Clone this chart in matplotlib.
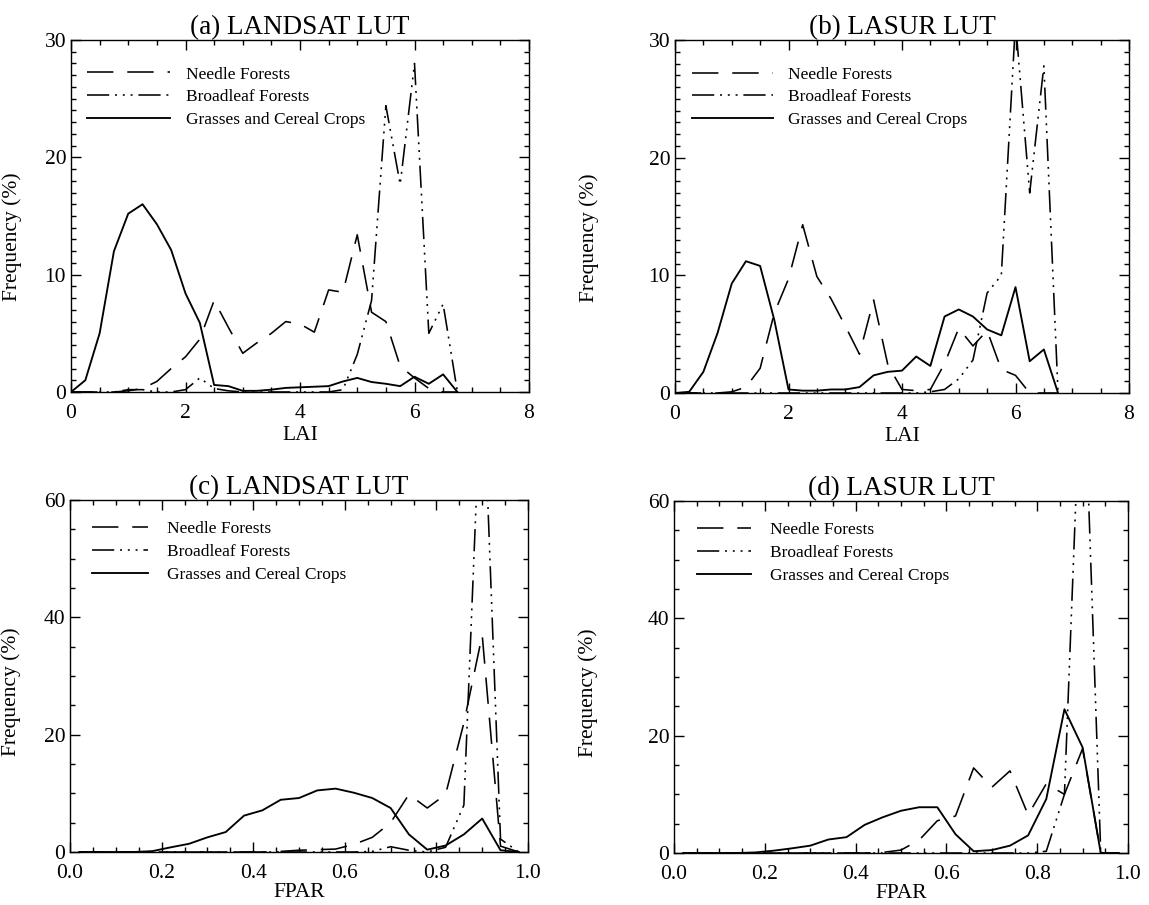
import matplotlib
matplotlib.use("Agg")
import matplotlib.pyplot as plt
from matplotlib.ticker import MultipleLocator

plt.rcParams['font.family'] = ['Liberation Serif', 'DejaVu Serif']
plt.rcParams['lines.scale_dashes'] = False

# ---------------- data ----------------
lai_bins = [0.0, 0.25, 0.5, 0.75, 1.0, 1.25, 1.5, 1.75, 2.0, 2.25, 2.5, 2.75, 3.0, 3.25,
            3.5, 3.75, 4.0, 4.25, 4.5, 4.75, 5.0, 5.25, 5.5, 5.75, 6.0, 6.25, 6.5, 6.75]

fpar_bins = [0.02, 0.06, 0.10, 0.14, 0.18, 0.22, 0.26, 0.30, 0.34, 0.38, 0.42, 0.46, 0.50,
             0.54, 0.58, 0.62, 0.66, 0.70, 0.74, 0.78, 0.82, 0.86, 0.90, 0.94, 0.98]

# (a) LANDSAT LUT, LAI
a_needle = [0, 0, 0, 0, 0.1, 0.3, 0.9, 2.0, 3.0, 4.5, 7.8, 5.5, 3.3, 4.2,
            5.0, 6.0, 5.8, 5.1, 8.7, 8.5, 13.4, 6.8, 6.0, 2.2, 1.2, 0.3, 0, 0]
a_broad = [0, 0, 0, 0, 0.2, 0.2, 0, 0, 0.2, 1.2, 0.3, 0.1, 0, 0,
           0, 0, 0, 0, 0, 0.2, 3.2, 7.8, 24.4, 17.7, 28.0, 5.0, 7.5, 0]
a_grass = [0, 1.0, 5.0, 12.0, 15.2, 16.0, 14.3, 12.1, 8.4, 5.9, 0.6, 0.5, 0.1, 0.1,
           0.2, 0.35, 0.4, 0.45, 0.5, 0.9, 1.2, 0.85, 0.7, 0.5, 1.3, 0.7, 1.5, 0]

# (b) LASUR LUT, LAI
b_needle = [0, 0, 0, 0, 0.1, 0.5, 2.1, 6.8, 9.7, 14.3, 9.9, 8.0, 5.7, 3.3,
            7.9, 2.4, 0.3, 0.2, 0.3, 2.5, 5.5, 4.0, 5.3, 2.0, 1.5, 0, 0, 0]
b_broad = [0, 0, 0, 0, 0, 0, 0, 0, 0, 0, 0, 0, 0, 0,
           0, 0, 0, 0, 0.1, 0.3, 1.2, 2.8, 8.5, 10.0, 31.5, 17.0, 27.8, 0]
b_grass = [0, 0.1, 1.8, 5.1, 9.3, 11.2, 10.8, 6.2, 0.3, 0.2, 0.2, 0.3, 0.3, 0.5,
           1.5, 1.8, 1.9, 3.1, 2.3, 6.5, 7.1, 6.5, 5.4, 4.9, 9.0, 2.7, 3.7, 0]

# (c) LANDSAT LUT, FPAR
c_needle = [0, 0, 0, 0, 0, 0, 0, 0, 0, 0, 0, 0.1, 0.3,
            0.4, 0.5, 1.3, 2.5, 5.0, 9.8, 7.5, 9.8, 22.0, 37.0, 1.0, 0]
c_broad = [0, 0, 0, 0, 0, 0, 0, 0, 0, 0, 0, 0, 0,
           0, 0, 0, 0.1, 0.9, 0.3, 0, 0.8, 8.0, 85.0, 2.2, 0]
c_grass = [0, 0, 0, 0, 0.15, 0.8, 1.4, 2.5, 3.4, 6.2, 7.1, 8.9, 9.2,
           10.5, 10.8, 10.1, 9.2, 7.5, 3.0, 0.4, 1.1, 3.0, 5.7, 0.3, 0]

# (d) LASUR LUT, FPAR
d_needle = [0, 0, 0, 0, 0, 0, 0, 0, 0, 0, 0, 0.1, 0.5,
            2.2, 5.5, 6.3, 14.5, 11.2, 14.0, 6.5, 11.8, 10.0, 17.8, 0, 0]
d_broad = [0, 0, 0, 0, 0, 0, 0, 0, 0, 0, 0, 0, 0,
           0, 0, 0, 0, 0, 0, 0, 0.3, 10.0, 90.0, 0, 0]
d_grass = [0, 0, 0, 0, 0.1, 0.4, 0.8, 1.25, 2.3, 2.7, 4.8, 6.1, 7.2,
           7.8, 7.8, 3.2, 0.3, 0.5, 1.25, 3.0, 9.2, 24.5, 18.0, 0, 0]

labels = ['Needle Forests', 'Broadleaf Forests', 'Grasses and Cereal Crops']
titles = ['(a) LANDSAT LUT', '(b) LASUR LUT', '(c) LANDSAT LUT', '(d) LASUR LUT']
lai_ticks = [0, 2, 4, 6, 8]
lai_ticklabels = ['0', '2', '4', '6', '8']
fpar_ticks = [0.0, 0.2, 0.4, 0.6, 0.8, 1.0]
fpar_ticklabels = ['0.0', '0.2', '0.4', '0.6', '0.8', '1.0']

# ---------------- styles ----------------
needle_dash = (0, (19, 10))
broad_dash = (0, (16, 4.2, 1.4, 4.2, 1.4, 4.2, 1.4, 4.2))
W, H = 1149, 905

fig = plt.figure(figsize=(W / 100, H / 100), dpi=100)

panels = [
    dict(rect=[71, 40, 458, 352], x=lai_bins, series=(a_needle, a_broad, a_grass),
         ylim=30, yt=[0, 10, 20, 30], ymin=1, xt=lai_ticks, xtl=lai_ticklabels, xmin=0.5,
         xlim=8, xlabel='LAI', ylab=(-0.108, 0.44), xlp=2,
         leg=dict(anchor=(0.035, 0.925), hl=4.8, pad=0.9)),
    dict(rect=[675, 40, 454, 353], x=lai_bins, series=(b_needle, b_broad, b_grass),
         ylim=30, yt=[0, 10, 20, 30], ymin=1, xt=lai_ticks, xtl=lai_ticklabels, xmin=0.5,
         xlim=8, xlabel='LAI', ylab=(-0.168, 0.44), xlp=2,
         leg=dict(anchor=(0.037, 0.925), hl=4.7, pad=0.86)),
    dict(rect=[70, 500, 458, 352], x=fpar_bins, series=(c_needle, c_broad, c_grass),
         ylim=60, yt=[0, 20, 40, 60], ymin=5, xt=fpar_ticks, xtl=fpar_ticklabels, xmin=0.05,
         xlim=1, xlabel='FPAR', ylab=(-0.107, 0.455), xlp=0,
         leg=dict(anchor=(0.048, 0.94), hl=3.2, pad=1.1)),
    dict(rect=[674, 501, 454, 352], x=fpar_bins, series=(d_needle, d_broad, d_grass),
         ylim=60, yt=[0, 20, 40, 60], ymin=5, xt=fpar_ticks, xtl=fpar_ticklabels, xmin=0.05,
         xlim=1, xlabel='FPAR', ylab=(-0.167, 0.455), xlp=0,
         leg=dict(anchor=(0.051, 0.94), hl=3.1, pad=1.1)),
]

for p, title in zip(panels, titles):
    l, t, w, h = p['rect']
    ax = fig.add_axes([l / W, 1 - (t + h) / H, w / W, h / H])
    needle, broad, grass = p['series']
    ax.plot(p['x'], needle, color='black', lw=1.15, linestyle=needle_dash, label=labels[0])
    ax.plot(p['x'], broad, color='black', lw=1.15, linestyle=broad_dash, label=labels[1])
    ax.plot(p['x'], grass, color='black', lw=1.35, linestyle='-', label=labels[2])

    ax.set_xlim(0, p['xlim'])
    ax.set_ylim(0, p['ylim'])
    ax.set_xticks(p['xt'])
    ax.set_xticklabels(p['xtl'])
    ax.set_yticks(p['yt'])
    ax.xaxis.set_minor_locator(MultipleLocator(p['xmin']))
    ax.yaxis.set_minor_locator(MultipleLocator(p['ymin']))
    ax.tick_params(which='both', direction='in', top=True, right=True, width=1.0)
    ax.tick_params(which='major', length=7, labelsize=15.5)
    ax.tick_params(axis='x', which='major', pad=8.5)
    ax.tick_params(axis='y', which='major', pad=3.5)
    ax.tick_params(which='minor', length=3.5)
    for s in ax.spines.values():
        s.set_linewidth(1.0)

    ax.set_title(title, fontsize=19.5, pad=4.5)
    ax.set_xlabel(p['xlabel'], fontsize=15.5, labelpad=p['xlp'])
    ax.set_ylabel('Frequency (%)', fontsize=15.5)
    ax.yaxis.set_label_coords(*p['ylab'])

    lg = p['leg']
    ax.legend(loc='upper left', bbox_to_anchor=lg['anchor'], frameon=False,
              handlelength=lg['hl'], handletextpad=lg['pad'], labelspacing=0.38,
              borderpad=0, borderaxespad=0, prop={'size': 12.5})

fig.savefig('out.png', dpi=100)
